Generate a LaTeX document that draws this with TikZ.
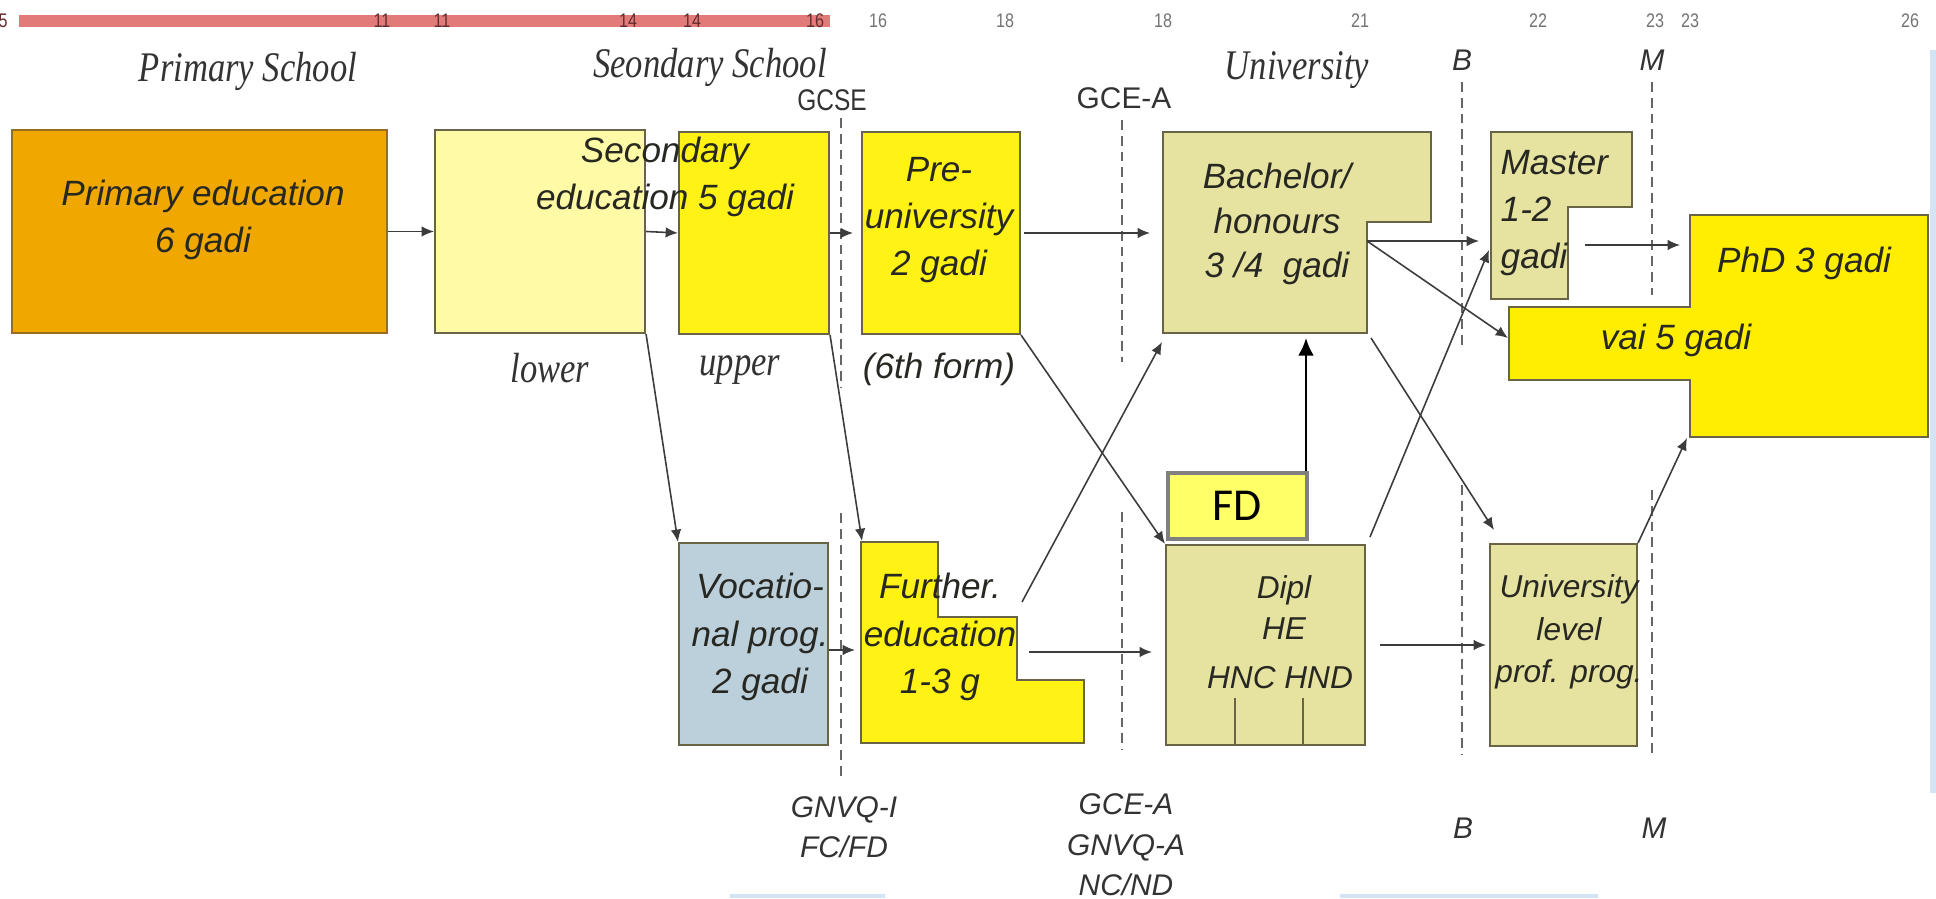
\documentclass[tikz,border=0pt]{standalone}
\usepackage{graphicx}
\usepackage{fontspec}
\setmainfont{Liberation Serif}
\setsansfont{Liberation Sans}
\newfontfamily\fdfont{Carlito}
\usetikzlibrary{arrows.meta}

\definecolor{barred}{RGB}{226,122,122}
\definecolor{barnum}{RGB}{100,45,45}
\definecolor{primfill}{RGB}{240,168,0}
\definecolor{primline}{RGB}{150,110,30}
\definecolor{paleyel}{RGB}{255,250,165}
\definecolor{brightyel}{RGB}{255,242,20}
\definecolor{khaki}{RGB}{230,226,160}
\definecolor{vocblue}{RGB}{188,208,220}
\definecolor{phdyel}{RGB}{255,238,0}
\definecolor{fdfill}{RGB}{255,255,102}
\definecolor{fdline}{RGB}{128,128,128}
\definecolor{boxline}{RGB}{105,100,70}
\definecolor{txt}{RGB}{40,40,35}
\definecolor{lnkc}{RGB}{60,60,60}
\definecolor{edgeblue}{RGB}{212,228,244}

\newcommand{\narrow}[1]{\scalebox{0.82}[1]{#1}}

\tikzset{
  box/.style={draw=boxline, line width=0.6pt, inner sep=0pt},
  poly/.style={draw=boxline, line width=0.6pt},
  lbl/.style={font=\sffamily\itshape\fontsize{10}{13.4}\selectfont, text=txt, align=center, inner sep=0pt},
  small lbl/.style={font=\sffamily\itshape\fontsize{9}{12}\selectfont, text=txt, align=center, inner sep=0pt},
  lnk/.style={draw=lnkc, line width=0.45pt, -{Latex[length=3.5pt,width=3pt]}},
  fdarrow/.style={draw=black, line width=0.7pt, -{Latex[length=5pt,width=4.5pt]}},
  age/.style={font=\sffamily\fontsize{5.6}{6.5}\selectfont, text=black!55, inner sep=0pt},
  onbar/.style={text=barnum},
  stage/.style={font=\rmfamily\itshape\fontsize{12}{14}\selectfont, text=black!80, inner sep=0pt},
  exam/.style={font=\sffamily\itshape\fontsize{8.5}{11.5}\selectfont, text=black!80, align=center, inner sep=0pt},
  cut/.style={draw=black!60, line width=0.45pt, dash pattern=on 2.8pt off 1.7pt},
}

\begin{document}
\begin{tikzpicture}
\useasboundingbox (0,0) rectangle (19.36,-8.99);

\fill[barred] (0.19,-0.15) rectangle (8.30,-0.27);
\node[age, onbar] (t5) at (0.03,-0.21) {\narrow{5}};
\node[age, onbar] (t11a) at (3.82,-0.21) {\narrow{11}};
\node[age, onbar] (t11b) at (4.42,-0.21) {\narrow{11}};
\node[age, onbar] (t14a) at (6.28,-0.21) {\narrow{14}};
\node[age, onbar] (t14b) at (6.92,-0.21) {\narrow{14}};
\node[age, onbar] (t16a) at (8.15,-0.21) {\narrow{16}};
\node[age] (t16b) at (8.78,-0.21) {\narrow{16}};
\node[age] (t18a) at (10.05,-0.21) {\narrow{18}};
\node[age] (t18b) at (11.63,-0.21) {\narrow{18}};
\node[age] (t21) at (13.60,-0.21) {\narrow{21}};
\node[age] (t22) at (15.38,-0.21) {\narrow{22}};
\node[age] (t23a) at (16.55,-0.21) {\narrow{23}};
\node[age] (t23b) at (16.90,-0.21) {\narrow{23}};
\node[age] (t26) at (19.10,-0.21) {\narrow{26}};

\node[stage] (primsch) at (2.48,-0.71) {\narrow{Primary School}};
\node[stage] (secsch) at (7.10,-0.67) {\narrow{Seondary School}};
\node[stage] (unisch) at (12.97,-0.70) {\narrow{University}};
\node[exam, font=\sffamily\fontsize{8.5}{10}\selectfont] (gcse) at (8.32,-1.00) {\narrow{GCSE}};
\node[exam, font=\sffamily\fontsize{8.5}{10}\selectfont] (gcea) at (11.24,-0.98) {GCE-A};
\node[exam] (btop) at (14.62,-0.60) {B};
\node[exam] (mtop) at (16.52,-0.60) {M};

\draw[cut] (8.41,-1.18) -- (8.41,-3.87);
\draw[cut] (8.41,-5.13) -- (8.41,-7.77);
\draw[cut] (11.22,-1.20) -- (11.22,-3.62);
\draw[cut] (11.22,-5.12) -- (11.22,-7.50);
\draw[cut] (14.62,-0.82) -- (14.62,-3.50);
\draw[cut] (14.62,-4.85) -- (14.62,-7.55);
\draw[cut] (16.52,-0.82) -- (16.52,-2.95);
\draw[cut] (16.52,-4.90) -- (16.52,-7.55);

\node[box, fill=primfill, draw=primline, minimum width=3.75cm, minimum height=2.03cm] (primary) at (1.995,-2.315) {};
\node[box, fill=paleyel, minimum width=2.10cm, minimum height=2.03cm] (lower) at (5.40,-2.315) {};
\node[box, fill=brightyel, minimum width=1.50cm, minimum height=2.02cm] (upper) at (7.54,-2.33) {};
\node[box, fill=brightyel, minimum width=1.58cm, minimum height=2.02cm] (preuni) at (9.41,-2.33) {};
\draw[poly, fill=khaki] (11.63,-1.32) -- (14.31,-1.32) -- (14.31,-2.22) -- (13.67,-2.22) -- (13.67,-3.33) -- (11.63,-3.33) -- cycle;
\draw[poly, fill=khaki] (14.91,-1.32) -- (16.32,-1.32) -- (16.32,-2.07) -- (15.68,-2.07) -- (15.68,-2.99) -- (14.91,-2.99) -- cycle;
\draw[poly, fill=phdyel] (15.09,-3.07) -- (16.90,-3.07) -- (16.90,-2.15) -- (19.28,-2.15) -- (19.28,-4.37) -- (16.90,-4.37) -- (16.90,-3.80) -- (15.09,-3.80) -- cycle;

\node[box, fill=vocblue, minimum width=1.49cm, minimum height=2.02cm] (voc) at (7.535,-6.44) {};
\draw[poly, fill=brightyel] (8.61,-5.42) -- (9.38,-5.42) -- (9.38,-6.17) -- (10.17,-6.17) -- (10.17,-6.80) -- (10.84,-6.80) -- (10.84,-7.43) -- (8.61,-7.43) -- cycle;
\node[box, fill=khaki, minimum width=1.99cm, minimum height=2.00cm] (dipl) at (12.655,-6.45) {};
\draw[boxline, line width=0.6pt] (12.35,-6.98) -- (12.35,-7.45);
\draw[boxline, line width=0.6pt] (13.03,-6.98) -- (13.03,-7.45);
\node[box, fill=khaki, minimum width=1.47cm, minimum height=2.02cm] (uniprof) at (15.635,-6.45) {};
\node[box, fill=fdfill, draw=fdline, line width=1.2pt, minimum width=1.39cm, minimum height=0.66cm, font=\fdfont\fontsize{13}{15}\selectfont] (fd) at (12.375,-5.06) {FD};

\node[lbl] (primtxt) at (2.03,-2.20) {Primary education\\6 gadi};
\node[lbl] (sectxt) at (6.65,-1.765) {Secondary\\education 5 gadi};
\node[lbl] (pretxt) at (9.39,-2.20) {Pre-\\university\\2 gadi};
\node[lbl, font=\sffamily\itshape\fontsize{10}{12.6}\selectfont] (bachtxt) at (12.77,-2.24) {Bachelor/\\honours\\3 /4\ \ gadi};
\node[lbl, align=left, anchor=west] (masttxt) at (15.00,-2.13) {Master\\1-2\\gadi};
\node[lbl] (phdtxt) at (18.04,-2.63) {PhD 3 gadi};
\node[lbl] (vaitxt) at (16.76,-3.40) {vai 5 gadi};
\node[lbl] (voctxt) at (7.60,-6.37) {Vocatio-\\nal prog.\\2 gadi};
\node[lbl] (furtxt) at (9.40,-6.37) {Further.\\education\\1-3 g};
\node[small lbl, font=\sffamily\itshape\fontsize{9}{11.7}\selectfont] (dipltxt) at (12.84,-6.075) {Dipl\\HE};
\node[small lbl] (hnctxt) at (12.80,-6.78) {HNC HND};
\node[small lbl] (unitxt) at (15.69,-6.32) {University\\level\\prof. prog.};

\node[stage] (lowtxt) at (5.50,-3.68) {\narrow{lower}};
\node[stage] (upptxt) at (7.40,-3.70) {\narrow{upper}};
\node[lbl] (formtxt) at (9.39,-3.69) {(6th form)};

\node[exam] (gnvqi) at (8.44,-8.27) {GNVQ-I\\FC/FD};
\node[exam] (gceabot) at (11.26,-8.45) {GCE-A\\GNVQ-A\\NC/ND};
\node[exam] (bbot) at (14.63,-8.28) {B};
\node[exam] (mbot) at (16.54,-8.28) {M};

\coordinate (bachW) at (11.63,-2.33);
\coordinate (bachE) at (13.67,-2.41);
\coordinate (bachSW) at (11.62,-3.42);
\coordinate (bachSE) at (13.71,-3.38);
\coordinate (bachS) at (13.06,-3.33);
\coordinate (mastW) at (14.91,-2.41);
\coordinate (mastSW) at (14.89,-2.50);
\coordinate (mastE) at (15.68,-2.45);
\coordinate (vaiW) at (15.08,-3.38);
\coordinate (phdW) at (16.90,-2.45);
\coordinate (phdSW) at (16.87,-4.38);
\coordinate (furNW) at (8.62,-5.41);
\coordinate (furW) at (8.61,-6.50);
\coordinate (furE) at (10.17,-6.52);
\coordinate (furStep) at (10.22,-6.02);
\coordinate (uniIn) at (14.94,-5.30);
\coordinate (diplOut) at (13.70,-5.37);

\draw[lnk] (primary.east) -- (lower.west);
\draw[lnk] (lower.east) -- (upper.west);
\draw[lnk, shorten >=0.08cm] (upper.east) -- (preuni.west);
\draw[lnk, shorten <=0.03cm, shorten >=0.13cm] (preuni.east) -- (bachW);
\draw[lnk, shorten >=0.12cm] (bachE) -- (mastW);
\draw[lnk] (bachE) -- (vaiW);
\draw[lnk, shorten <=0.17cm, shorten >=0.10cm] (mastE) -- (phdW);
\draw[lnk] (lower.south east) -- (voc.north west);
\draw[lnk] (upper.south east) -- (furNW);
\draw[lnk] (preuni.south east) -- (dipl.north west);
\draw[lnk] (furStep) -- (bachSW);
\draw[lnk] (bachSE) -- (uniIn);
\draw[lnk] (diplOut) -- (mastSW);
\draw[lnk, shorten >=0.06cm] (voc.east |- furW) -- (furW);
\draw[lnk, shorten <=0.12cm, shorten >=0.13cm] (furE) -- (dipl.west |- furE);
\draw[lnk, shorten <=0.14cm, shorten >=0.03cm] (dipl.east) -- (uniprof.west);
\draw[lnk] (uniprof.north east) -- (phdSW);
\draw[fdarrow, shorten >=0.05cm] (fd.north east -| bachS) -- (bachS);

\fill[edgeblue] (19.30,-0.50) rectangle (19.36,-7.93);
\draw[edgeblue, line width=1pt] (7.30,-8.96) -- (8.85,-8.96);
\draw[edgeblue, line width=1pt] (13.40,-8.96) -- (15.98,-8.96);
\end{tikzpicture}
\end{document}
